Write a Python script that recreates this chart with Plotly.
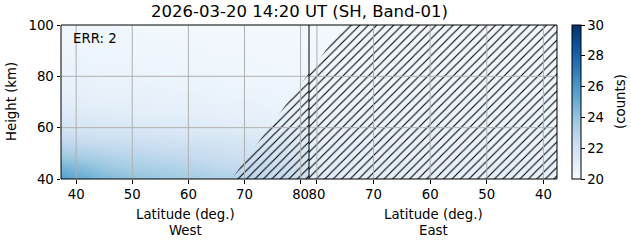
import plotly.graph_objects as go

# ---------------- data ----------------
LAT = [35, 40, 45, 50, 55, 60, 65, 70, 75, 80, 85]          # cell centres (deg.)
HGT = [40, 45, 50, 55, 60, 65, 70, 75, 80, 85, 90, 95, 100]  # cell centres (km)

# West-side counts (rows = HGT, cols = LAT)
Z_WEST = [
    [26.0, 25.3, 24.6, 24.1, 23.9, 23.6, 23.3, 23.0, 22.6, 22.3, 22.2],
    [25.0, 24.4, 23.8, 23.4, 23.2, 23.0, 22.7, 22.5, 22.2, 21.9, 21.8],
    [23.7, 23.3, 23.0, 22.8, 22.6, 22.4, 22.2, 22.0, 21.8, 21.6, 21.6],
    [22.8, 22.5, 22.3, 22.2, 22.0, 21.9, 21.8, 21.7, 21.5, 21.3, 21.3],
    [21.9, 21.7, 21.6, 21.5, 21.4, 21.3, 21.2, 21.1, 21.0, 20.9, 20.9],
    [21.4, 21.3, 21.2, 21.1, 21.0, 21.0, 20.9, 20.8, 20.8, 20.7, 20.7],
    [21.1, 21.0, 20.9, 20.9, 20.8, 20.8, 20.7, 20.7, 20.6, 20.6, 20.6],
    [20.8, 20.8, 20.7, 20.7, 20.7, 20.6, 20.6, 20.5, 20.5, 20.5, 20.5],
    [20.7, 20.7, 20.6, 20.6, 20.5, 20.5, 20.5, 20.4, 20.4, 20.4, 20.4],
    [20.6, 20.6, 20.5, 20.5, 20.5, 20.4, 20.4, 20.4, 20.3, 20.3, 20.3],
    [20.5, 20.5, 20.5, 20.4, 20.4, 20.4, 20.3, 20.3, 20.3, 20.3, 20.3],
    [20.5, 20.4, 20.4, 20.4, 20.3, 20.3, 20.3, 20.3, 20.2, 20.2, 20.2],
    [20.4, 20.4, 20.4, 20.3, 20.3, 20.3, 20.2, 20.2, 20.2, 20.2, 20.2],
]

# East-side counts (rows = HGT, cols = LAT)
Z_EAST = [
    [20.9, 20.9, 20.9, 20.9, 20.9, 20.9, 21.0, 21.0, 21.1, 21.2, 21.2],
    [20.8, 20.8, 20.8, 20.8, 20.8, 20.8, 20.9, 20.9, 21.0, 21.1, 21.1],
    [20.7, 20.7, 20.7, 20.7, 20.7, 20.7, 20.8, 20.8, 20.9, 20.9, 20.9],
    [20.6, 20.6, 20.6, 20.6, 20.6, 20.7, 20.7, 20.7, 20.8, 20.8, 20.8],
    [20.6, 20.6, 20.6, 20.6, 20.6, 20.6, 20.6, 20.6, 20.7, 20.7, 20.7],
    [20.5, 20.5, 20.5, 20.5, 20.5, 20.5, 20.5, 20.6, 20.6, 20.6, 20.6],
    [20.5, 20.5, 20.5, 20.5, 20.5, 20.5, 20.5, 20.5, 20.5, 20.5, 20.5],
    [20.4, 20.4, 20.4, 20.4, 20.4, 20.4, 20.4, 20.4, 20.4, 20.4, 20.4],
    [20.4, 20.4, 20.4, 20.4, 20.4, 20.4, 20.4, 20.4, 20.4, 20.4, 20.4],
    [20.3, 20.3, 20.3, 20.3, 20.3, 20.3, 20.3, 20.3, 20.3, 20.3, 20.3],
    [20.3, 20.3, 20.3, 20.3, 20.3, 20.3, 20.3, 20.3, 20.3, 20.3, 20.3],
    [20.3, 20.3, 20.3, 20.3, 20.3, 20.3, 20.3, 20.3, 20.3, 20.3, 20.3],
    [20.2, 20.2, 20.2, 20.2, 20.2, 20.2, 20.2, 20.2, 20.2, 20.2, 20.2],
]

# hatched (masked) region outlines
HATCH_W_LAT = [67.7, 82.0, 82.0]
HATCH_W_HGT = [40.0, 40.0, 82.8]
HATCH_E_LAT = [82.0, 82.0, 75.2, 35.0, 35.0]
HATCH_E_HGT = [40.0, 79.5, 100.0, 100.0, 40.0]

LAT_TICKS = [40, 50, 60, 70, 80]
HGT_TICKS = [40, 60, 80, 100]
CB_TICKS = [20, 22, 24, 26, 28, 30]
ZMIN, ZMAX = 20, 30

TITLE = "2026-03-20 14:20 UT (SH, Band-01)"
ERR_TEXT = "ERR: 2"

BLUES = [[0.0, '#f7fbff'], [0.125, '#deebf7'], [0.25, '#c6dbef'], [0.375, '#9ecae1'],
         [0.5, '#6baed6'], [0.625, '#4292c6'], [0.75, '#2171b5'], [0.875, '#08519c'],
         [1.0, '#08306b']]

FONT = "DejaVu Sans"
FS = 13.3
GRID = "#b0b0b0"

fig = go.Figure()

fig.add_trace(go.Heatmap(
    x=LAT, y=HGT, z=Z_WEST, xaxis='x', yaxis='y',
    colorscale=BLUES, zmin=ZMIN, zmax=ZMAX, zsmooth='best',
    showscale=True,
    colorbar=dict(x=1.031, xanchor='left', y=0.5, yanchor='middle',
                  len=154, lenmode='pixels', thickness=8.5, xpad=0, ypad=0,
                  outlinewidth=1, outlinecolor='black',
                  tickvals=CB_TICKS, ticks='outside', ticklen=3.5, tickwidth=1,
                  tickcolor='black', tickfont=dict(family=FONT, size=FS, color='black')),
    hoverinfo='skip'))

fig.add_trace(go.Heatmap(
    x=LAT, y=HGT, z=Z_EAST, xaxis='x2', yaxis='y',
    colorscale=BLUES, zmin=ZMIN, zmax=ZMAX, zsmooth='best',
    showscale=False, hoverinfo='skip'))

pattern = dict(shape='/', fgcolor='black', bgcolor='rgba(0,0,0,0)', size=6,
               solidity=0.18, fillmode='replace')
fig.add_trace(go.Scatter(x=HATCH_W_LAT, y=HATCH_W_HGT, xaxis='x', yaxis='y',
                         mode='lines', fill='toself', line=dict(width=0),
                         fillcolor='rgba(0,0,0,0)', fillpattern=pattern,
                         showlegend=False, hoverinfo='skip'))
fig.add_trace(go.Scatter(x=HATCH_E_LAT, y=HATCH_E_HGT, xaxis='x2', yaxis='y',
                         mode='lines', fill='toself', line=dict(width=0),
                         fillcolor='rgba(0,0,0,0)', fillpattern=pattern,
                         showlegend=False, hoverinfo='skip'))

shapes = []
for t in LAT_TICKS:
    for ax in ('x', 'x2'):
        shapes.append(dict(type='line', xref=ax, yref='paper', x0=t, x1=t, y0=0, y1=1,
                           line=dict(color=GRID, width=1), layer='above'))
for h in HGT_TICKS[1:-1]:
    shapes.append(dict(type='line', xref='paper', yref='y', x0=0, x1=1, y0=h, y1=h,
                       line=dict(color=GRID, width=1), layer='above'))
shapes.append(dict(type='rect', xref='paper', yref='paper', x0=0, x1=1, y0=0, y1=1,
                   line=dict(color='black', width=1), layer='above'))
shapes.append(dict(type='line', xref='paper', yref='paper', x0=0.5, x1=0.5, y0=0, y1=1,
                   line=dict(color='black', width=1), layer='above'))

tickfont = dict(family=FONT, size=FS, color='black')
axis_common = dict(tickvals=LAT_TICKS, ticks='outside', ticklen=3.5, tickwidth=1,
                   tickcolor='black', tickfont=tickfont, showgrid=False,
                   zeroline=False, showline=False)

annotations = [
    dict(text=TITLE, xref='paper', yref='paper', x=0.48, y=1 + 13 / 154,
         xanchor='center', yanchor='middle', showarrow=False,
         font=dict(family=FONT, size=16.5, color='black')),
    dict(text=ERR_TEXT, xref='paper', yref='paper', x=10 / 496, y=(179 - 38) / 154,
         xanchor='left', yanchor='middle', showarrow=False,
         font=dict(family=FONT, size=FS, color='black')),
    dict(text="Height (km)", xref='paper', yref='paper', x=-50 / 496, y=0.5,
         xanchor='center', yanchor='middle', textangle=-90, showarrow=False,
         font=dict(family=FONT, size=FS, color='black')),
    dict(text="(counts)", xref='paper', yref='paper', x=(620 - 61) / 496, y=0.5,
         xanchor='center', yanchor='middle', textangle=-90, showarrow=False,
         font=dict(family=FONT, size=FS, color='black')),
]
for cx, side in ((0.25, "West"), (0.75, "East")):
    annotations.append(dict(text="Latitude (deg.)", xref='paper', yref='paper', x=cx,
                            y=-(214 - 179) / 154, xanchor='center', yanchor='middle',
                            showarrow=False, font=dict(family=FONT, size=FS, color='black')))
    annotations.append(dict(text=side, xref='paper', yref='paper', x=cx,
                            y=-(230 - 179) / 154, xanchor='center', yanchor='middle',
                            showarrow=False, font=dict(family=FONT, size=FS, color='black')))

fig.update_layout(
    width=631, height=243,
    margin=dict(l=61, r=74, t=25, b=64, pad=0),
    paper_bgcolor='white', plot_bgcolor='white',
    showlegend=False,
    xaxis=dict(domain=[0, 0.5], range=[37.3, 81.5], anchor='y', **axis_common),
    xaxis2=dict(domain=[0.5, 1], range=[81.4, 37.6], anchor='y', **axis_common),
    yaxis=dict(domain=[0, 1], range=[40, 100], tickvals=HGT_TICKS, ticks='outside',
               ticklen=3.5, tickwidth=1, tickcolor='black', tickfont=tickfont,
               showgrid=False, zeroline=False, showline=False, anchor='x'),
    shapes=shapes,
    annotations=annotations,
    font=dict(family=FONT, size=FS, color='black'),
)

fig.write_html("out.html")
